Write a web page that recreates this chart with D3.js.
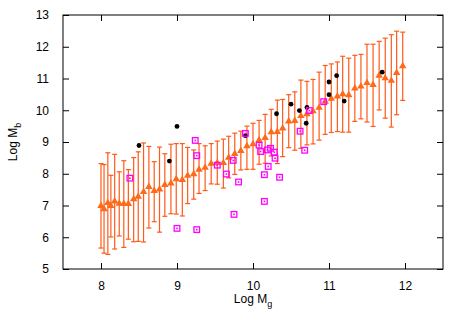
<!DOCTYPE html>
<html>
<head>
<meta charset="utf-8">
<script src="https://cdn.jsdelivr.net/npm/d3@7"></script>
<style>
  body { margin: 0; background: #fff; }
  svg { font-family: "Liberation Sans", Arial, sans-serif; }
</style>
</head>
<body>
<svg id="chart" width="463" height="324"></svg>
<script>
// model: binned values with error bars
const modelX = [8.00, 8.04, 8.09, 8.13, 8.18, 8.24, 8.30, 8.36, 8.43, 8.49,
  8.56, 8.63, 8.70, 8.77, 8.84, 8.92, 8.99, 9.07, 9.14, 9.22,
  9.29, 9.37, 9.45, 9.53, 9.61, 9.68, 9.76, 9.84, 9.92, 10.00,
  10.08, 10.16, 10.24, 10.32, 10.39, 10.47, 10.55, 10.63, 10.71, 10.79,
  10.87, 10.95, 11.03, 11.11, 11.18, 11.26, 11.34, 11.42, 11.50, 11.58,
  11.66, 11.74, 11.82, 11.89, 11.97]
const modelY = [6.99, 6.89, 7.08, 6.99, 7.13, 7.06, 7.05, 7.05, 7.20, 7.28,
  7.43, 7.59, 7.46, 7.51, 7.65, 7.70, 7.83, 7.81, 7.94, 7.99,
  8.13, 8.19, 8.32, 8.34, 8.34, 8.51, 8.63, 8.72, 8.87, 8.93,
  9.06, 9.13, 9.31, 9.32, 9.43, 9.65, 9.67, 9.82, 9.88, 9.97,
  10.08, 10.27, 10.37, 10.44, 10.51, 10.48, 10.69, 10.75, 10.86, 10.80,
  11.09, 11.01, 10.93, 11.18, 11.39]
const modelHi = [8.32, 8.29, 8.66, 7.95, 8.61, 8.06, 8.41, 8.13, 8.51, 8.69,
  8.97, 8.86, 8.38, 8.84, 8.63, 8.93, 8.95, 8.95, 8.83, 8.75,
  8.95, 8.88, 8.95, 9.03, 9.09, 9.18, 9.28, 9.34, 9.50, 9.59,
  9.68, 9.87, 10.03, 10.32, 10.34, 10.49, 10.58, 10.95, 10.91, 10.97,
  11.20, 11.41, 11.46, 11.52, 11.70, 11.64, 11.73, 11.76, 12.08, 12.08,
  12.17, 12.27, 12.38, 12.49, 12.46]
const modelLo = [5.66, 5.50, 5.46, 6.01, 5.63, 6.04, 5.68, 5.94, 5.86, 5.87,
  5.85, 6.29, 6.49, 6.16, 6.66, 6.74, 6.73, 6.67, 7.06, 7.20,
  7.38, 7.47, 7.68, 7.67, 7.55, 7.87, 7.98, 8.12, 8.14, 8.14,
  8.30, 8.33, 8.56, 8.32, 8.54, 8.82, 8.74, 8.80, 8.91, 8.94,
  9.06, 9.24, 9.30, 9.33, 9.31, 9.31, 9.65, 9.73, 9.63, 9.49,
  10.01, 9.75, 9.47, 9.86, 10.31]

// black points
const blackX = [8.50, 9.00, 8.90, 9.90, 10.31, 10.50, 10.61, 10.71, 10.70, 11.00, 11.00, 11.10, 11.20, 11.70]
const blackY = [8.89, 9.49, 8.40, 9.20, 9.89, 10.19, 9.99, 10.09, 9.59, 10.89, 10.49, 11.09, 10.29, 11.20]

// magenta squares
const magX = [8.38, 9.00, 9.26, 9.24, 9.26, 9.53, 9.65, 9.74, 9.81, 9.90,
  10.08, 10.10, 10.15, 10.15, 9.75, 10.20, 10.23, 10.19, 10.28, 10.29,
  10.35, 10.62, 10.68, 10.74, 10.93]
const magY = [7.86, 6.28, 6.24, 9.05, 8.57, 8.27, 7.99, 8.42, 7.74, 9.27,
  8.90, 8.70, 7.97, 7.13, 6.72, 8.23, 8.80, 8.75, 8.68, 8.49,
  7.89, 9.34, 8.74, 9.99, 10.27]

const xTicks = [8, 9, 10, 11, 12]
const yTicks = [5, 6, 7, 8, 9, 10, 11, 12, 13]

const margin = {left: 63, right: 20, top: 15, bottom: 55}
const W = 463, H = 324

const svg = d3.select("#chart")

const x = d3.scaleLinear().domain([7.5, 12.5]).range([margin.left, W - margin.right])
const y = d3.scaleLinear().domain([5, 13]).range([H - margin.bottom, margin.top])

const orange = "#ff5a1a"

// axes (ticks inside, mirrored)
const axisStyle = (g) => {
  g.select(".domain").remove()
  g.selectAll(".tick line").attr("stroke", "#000")
  g.selectAll(".tick text").attr("fill", "#000").attr("font-size", "12px")
}

svg.append("g")
  .attr("transform", `translate(0 ${H - margin.bottom})`)
  .call(d3.axisBottom(x).tickValues(xTicks).tickSizeInner(-6).tickSizeOuter(0).tickPadding(12).tickFormat(d3.format("d")))
  .call(axisStyle)

svg.append("g")
  .attr("transform", `translate(0 ${margin.top})`)
  .call(d3.axisTop(x).tickValues(xTicks).tickSizeInner(-6).tickSizeOuter(0).tickFormat(""))
  .call(axisStyle)

svg.append("g")
  .attr("transform", `translate(${margin.left} 0)`)
  .call(d3.axisLeft(y).tickValues(yTicks).tickSizeInner(-6).tickSizeOuter(0).tickPadding(14).tickFormat(d3.format("d")))
  .call(axisStyle)

svg.append("g")
  .attr("transform", `translate(${W - margin.right} 0)`)
  .call(d3.axisRight(y).tickValues(yTicks).tickSizeInner(-6).tickSizeOuter(0).tickFormat(""))
  .call(axisStyle)

svg.append("rect")
  .attr("x", margin.left)
  .attr("y", margin.top)
  .attr("width", W - margin.left - margin.right)
  .attr("height", H - margin.top - margin.bottom)
  .attr("fill", "none")
  .attr("stroke", "#000")
  .attr("stroke-width", 1)

// labels
const xl = svg.append("text")
  .attr("x", x(10))
  .attr("y", 303)
  .attr("text-anchor", "middle")
  .attr("font-size", "12px")
xl.append("tspan").text("Log M")
xl.append("tspan").text("g").attr("font-size", "9px").attr("dy", 4)

const yl = svg.append("text")
  .attr("transform", `translate(17 ${y(9)}) rotate(-90)`)
  .attr("text-anchor", "middle")
  .attr("font-size", "12px")
yl.append("tspan").text("Log M")
yl.append("tspan").text("b").attr("font-size", "9px").attr("dy", 4)

// model error bars
const model = modelX.map((d, i) => ({x: d, y: modelY[i], lo: modelLo[i], hi: modelHi[i]}))

const bars = svg.append("g").attr("stroke", orange).attr("stroke-width", 1.2)
bars.selectAll(".bar")
  .data(model)
  .join("line")
  .attr("x1", (d) => x(d.x))
  .attr("x2", (d) => x(d.x))
  .attr("y1", (d) => y(d.lo))
  .attr("y2", (d) => y(d.hi))
bars.selectAll(".capHi")
  .data(model)
  .join("line")
  .attr("x1", (d) => x(d.x) - 2.5)
  .attr("x2", (d) => x(d.x) + 2.5)
  .attr("y1", (d) => y(d.hi))
  .attr("y2", (d) => y(d.hi))
bars.append("g").selectAll("line")
  .data(model)
  .join("line")
  .attr("x1", (d) => x(d.x) - 2.5)
  .attr("x2", (d) => x(d.x) + 2.5)
  .attr("y1", (d) => y(d.lo))
  .attr("y2", (d) => y(d.lo))

const tri = d3.symbol().type(d3.symbolTriangle).size(24)
svg.append("g").selectAll("path")
  .data(model)
  .join("path")
  .attr("d", tri)
  .attr("transform", (d) => `translate(${x(d.x)} ${y(d.y)})`)
  .attr("fill", "#ff6a1a")

// black dots
svg.append("g").selectAll("circle")
  .data(blackX.map((d, i) => ({x: d, y: blackY[i]})))
  .join("circle")
  .attr("cx", (d) => x(d.x))
  .attr("cy", (d) => y(d.y))
  .attr("r", 2.4)
  .attr("fill", "#000")

// magenta open squares with centre dot
const mag = magX.map((d, i) => ({x: d, y: magY[i]}))
const mg = svg.append("g")
mg.selectAll("rect.sq")
  .data(mag)
  .join("rect")
  .attr("x", (d) => x(d.x) - 2.8)
  .attr("y", (d) => y(d.y) - 2.8)
  .attr("width", 5.6)
  .attr("height", 5.6)
  .attr("fill", "none")
  .attr("stroke", "#ff00ff")
  .attr("stroke-width", 1.3)
mg.append("g").selectAll("rect")
  .data(mag)
  .join("rect")
  .attr("x", (d) => x(d.x) - 0.8)
  .attr("y", (d) => y(d.y) - 0.8)
  .attr("width", 1.6)
  .attr("height", 1.6)
  .attr("fill", "#ff00ff")
</script>
</body>
</html>
